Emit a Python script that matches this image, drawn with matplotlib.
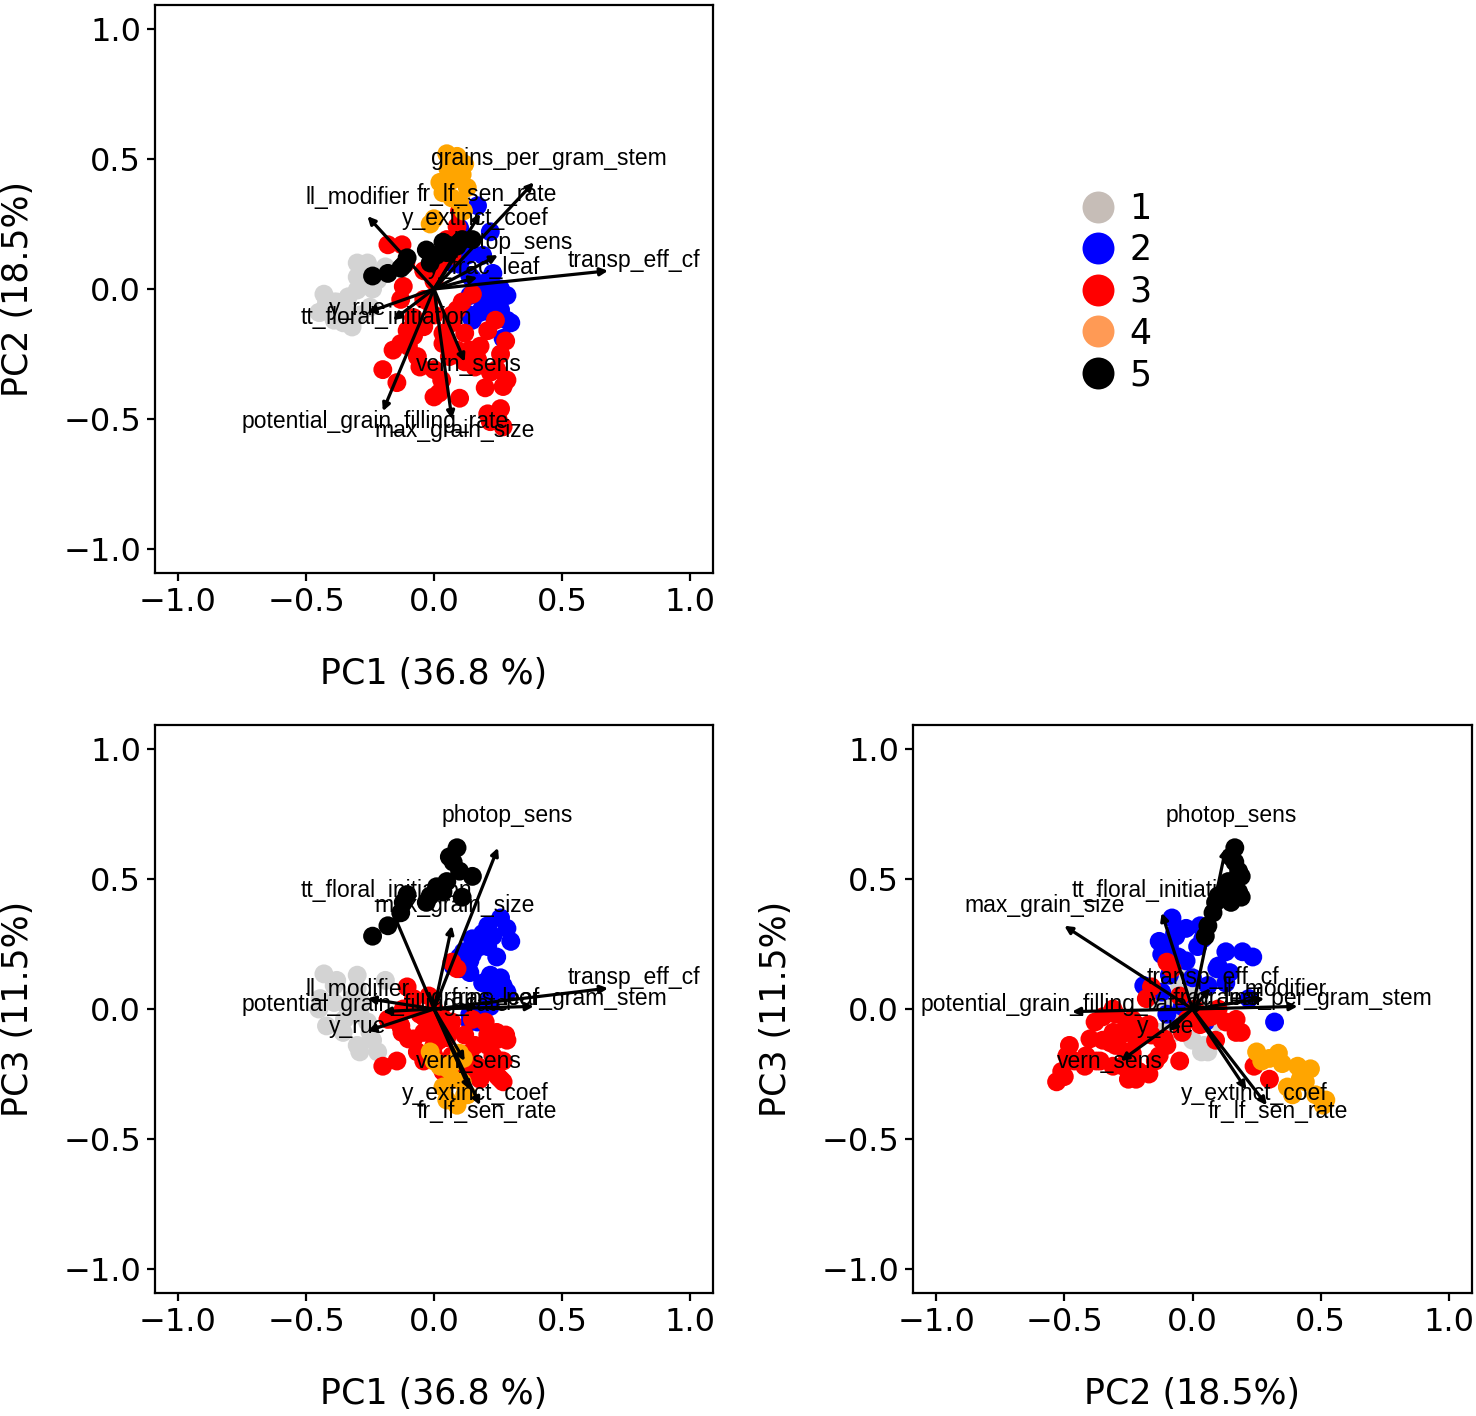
import matplotlib
matplotlib.use('Agg')
from matplotlib import pyplot as plt
from matplotlib.lines import Line2D

# variable loadings on PC1, PC2, PC3
var_names = ['transp_eff_cf', 'grains_per_gram_stem', 'fr_lf_sen_rate', 'y_extinct_coef',
             'photop_sens', 'll_modifier', 'tt_floral_initiation', 'y_rue',
             'potential_grain_filling_rate', 'max_grain_size', 'vern_sens', 'y_frac_leaf']
load_pc1 = [0.68, 0.39, 0.18, 0.14, 0.25, -0.26, -0.16, -0.26, -0.20, 0.07, 0.12, 0.17]
load_pc2 = [0.07, 0.41, 0.29, 0.21, 0.13, 0.28, -0.12, -0.09, -0.47, -0.50, -0.28, 0.045]
load_pc3 = [0.08, 0.01, -0.37, -0.31, 0.62, 0.04, 0.37, -0.085, -0.01, 0.32, -0.20, 0.01]

# sample scores (PC1, PC2, PC3) per cluster
grp1 = [(-0.43, -0.02, 0.135), (-0.30, 0.10, 0.13), (-0.19, 0.085, 0.11), (-0.39, -0.05, 0.09),
        (-0.445, -0.09, 0.04), (-0.39, -0.12, 0.025), (-0.42, -0.054, -0.065), (-0.355, -0.13, -0.09),
        (-0.30, 0.046, -0.14), (-0.22, 0.035, -0.165), (-0.29, 0.06, -0.165), (-0.26, 0.10, -0.05),
        (-0.335, -0.03, 0.0), (-0.32, -0.146, 0.04), (-0.29, -0.10, -0.02), (-0.25, -0.07, -0.09),
        (-0.35, -0.08, -0.04), (-0.30, -0.004, 0.08), (-0.24, 0.0, -0.12), (-0.28, 0.03, 0.02),
        (-0.38, -0.05, 0.11), (-0.45, -0.09, 0.0)]
grp2 = [(0.26, -0.08, 0.35), (0.285, -0.025, 0.31), (0.30, -0.13, 0.26), (0.23, -0.065, 0.28),
        (0.21, 0.03, 0.32), (0.15, 0.04, 0.27), (0.18, -0.09, 0.24), (0.13, 0.13, 0.22),
        (0.115, 0.195, 0.22), (0.10, 0.235, 0.20), (0.075, 0.10, 0.165), (0.14, -0.025, 0.185),
        (0.10, 0.095, 0.155), (0.14, 0.145, 0.14), (0.19, 0.13, 0.10), (0.27, -0.19, 0.09),
        (0.285, -0.12, 0.065), (0.22, 0.22, 0.04), (0.17, 0.32, -0.05), (0.19, 0.0, -0.01),
        (0.14, 0.05, -0.05), (0.22, -0.04, 0.01), (0.26, 0.0, 0.12), (0.245, -0.055, 0.20),
        (0.19, -0.07, 0.29), (0.15, -0.12, 0.21), (0.22, -0.09, 0.13), (0.23, 0.06, 0.09),
        (0.21, 0.02, 0.24), (0.14, -0.10, -0.02)]
grp3 = [(0.21, -0.48, -0.14), (0.23, -0.49, -0.18), (0.22, -0.51, -0.24), (0.27, -0.53, -0.28),
        (0.25, -0.50, -0.26), (0.0, -0.415, -0.18), (0.26, -0.46, -0.20), (0.22, -0.32, -0.13),
        (0.245, -0.31, -0.09), (0.285, -0.35, -0.12), (0.27, -0.375, -0.20), (0.17, -0.27, -0.22),
        (0.14, -0.235, -0.17), (0.09, -0.235, -0.20), (-0.16, -0.235, -0.04), (-0.13, -0.21, -0.065),
        (-0.10, -0.22, -0.115), (-0.065, -0.26, -0.165), (-0.055, -0.30, -0.02), (0.035, -0.21, -0.24),
        (0.18, -0.22, -0.27), (0.26, -0.25, -0.27), (0.12, -0.28, -0.10), (0.20, -0.38, -0.05),
        (0.16, -0.30, -0.14), (0.035, -0.17, -0.06), (0.05, -0.21, -0.11), (-0.04, -0.145, -0.20),
        (-0.08, -0.11, -0.115), (-0.13, -0.04, -0.065), (-0.12, 0.01, 0.0), (-0.04, -0.04, -0.09),
        (0.21, -0.16, -0.10), (0.0, -0.10, -0.14), (0.07, -0.13, -0.18), (0.11, -0.05, -0.20),
        (-0.105, -0.16, 0.085), (-0.145, -0.36, -0.20), (-0.20, -0.31, -0.22), (0.02, -0.40, -0.115),
        (-0.18, 0.17, -0.04), (-0.125, 0.17, -0.09), (0.09, 0.24, -0.22), (0.05, 0.19, -0.09),
        (0.07, 0.13, -0.05), (-0.11, 0.10, 0.0), (-0.04, 0.07, -0.03), (0.0, 0.03, -0.06),
        (0.02, 0.09, -0.12), (0.10, 0.30, -0.27), (0.07, -0.10, 0.18), (0.09, -0.08, 0.155),
        (0.0, -0.31, 0.0), (-0.02, -0.05, 0.05), (0.03, -0.35, -0.03), (0.10, -0.42, -0.22),
        (0.12, -0.17, -0.25), (0.24, -0.12, -0.12), (0.28, -0.20, -0.10), (0.15, -0.02, -0.04),
        (-0.08, -0.18, 0.04), (0.06, -0.26, -0.07)]
grp4 = [(0.09, 0.51, -0.37), (0.12, 0.48, -0.33), (0.055, 0.46, -0.23), (0.11, 0.44, -0.28),
        (0.074, 0.42, -0.27), (0.023, 0.41, -0.22), (0.13, 0.39, -0.33), (0.035, 0.37, -0.30),
        (0.07, 0.35, -0.21), (0.10, 0.335, -0.17), (0.0, 0.27, -0.20), (-0.015, 0.25, -0.165),
        (0.115, 0.30, -0.19), (0.05, 0.52, -0.35)]
grp5 = [(0.09, 0.165, 0.62), (0.06, 0.15, 0.585), (0.075, 0.165, 0.565), (0.10, 0.18, 0.53),
        (0.15, 0.19, 0.51), (0.05, 0.14, 0.49), (0.01, 0.13, 0.47), (0.035, 0.18, 0.45),
        (-0.015, 0.10, 0.435), (-0.105, 0.12, 0.44), (-0.12, 0.09, 0.41), (-0.03, 0.15, 0.41),
        (0.11, 0.19, 0.43), (-0.13, 0.08, 0.37), (-0.18, 0.06, 0.32), (-0.24, 0.05, 0.28)]

groups = [grp1, grp2, grp3, grp4, grp5]
group_labels = ['1', '2', '3', '4', '5']
point_colors = ['#D3D3D3', '#0000FF', '#FF0000', '#FFA500', '#000000']
legend_colors = ['#C6BDB7', '#0000FF', '#FF0000', '#FF9A55', '#000000']

pc_titles = {0: 'PC1 (36.8 %)', 1: 'PC2 (18.5%)', 2: 'PC3 (11.5%)'}
loads = [load_pc1, load_pc2, load_pc3]

W, H = 1476, 1416
fig = plt.figure(figsize=(W / 100, H / 100), dpi=100)


def px_axes(left, top, right, bottom):
    return fig.add_axes([left / W, 1 - bottom / H, (right - left) / W, (bottom - top) / H])


def tick_text(t):
    return '%.1f' % t if t >= 0 else '\u2212%.1f' % -t


def biplot(ax, i, j):
    for pts, col in zip(groups, point_colors):
        ax.scatter([p[i] for p in pts], [p[j] for p in pts], s=185, color=col,
                   edgecolors='none', zorder=2)
    for name, lx, ly in zip(var_names, loads[i], loads[j]):
        ax.annotate('', xy=(lx, ly), xytext=(0, 0),
                    arrowprops=dict(arrowstyle='-|>', color='black', lw=2.3,
                                    mutation_scale=11, shrinkA=0, shrinkB=0), zorder=3)
        ax.text(lx * 1.15, ly * 1.15 + 0.03, name, ha='center', va='center',
                fontsize=16.5, family='Liberation Sans', zorder=4)
    ax.set_xlim(-1.09, 1.09)
    ax.set_ylim(-1.092, 1.092)
    ticks = [-1.0, -0.5, 0.0, 0.5, 1.0]
    ax.set_xticks(ticks)
    ax.set_yticks(ticks)
    ax.set_xticklabels([tick_text(t) for t in ticks])
    ax.set_yticklabels([tick_text(t) for t in ticks])
    ax.tick_params(length=6, width=1.6, labelsize=23, pad=4, color='black')
    for sp in ax.spines.values():
        sp.set_linewidth(1.6)
    ax.set_xlabel(pc_titles[i], fontsize=25, labelpad=28)
    ax.set_ylabel(pc_titles[j], fontsize=25, labelpad=20)


ax1 = px_axes(155, 5, 713, 573)
biplot(ax1, 0, 1)
ax2 = px_axes(155, 725, 713, 1293)
biplot(ax2, 0, 2)
ax3 = px_axes(913, 725, 1472, 1293)
biplot(ax3, 1, 2)

handles = [Line2D([], [], marker='o', linestyle='none', markersize=23,
                  markerfacecolor=c, markeredgecolor='none') for c in legend_colors]
fig.legend(handles, group_labels, loc='center left', bbox_to_anchor=(1060 / W, 1 - 292 / H),
           frameon=False, fontsize=25, handletextpad=0.3, labelspacing=0.22,
           handlelength=1.2, borderpad=0)

fig.savefig('out.png', dpi=100)
